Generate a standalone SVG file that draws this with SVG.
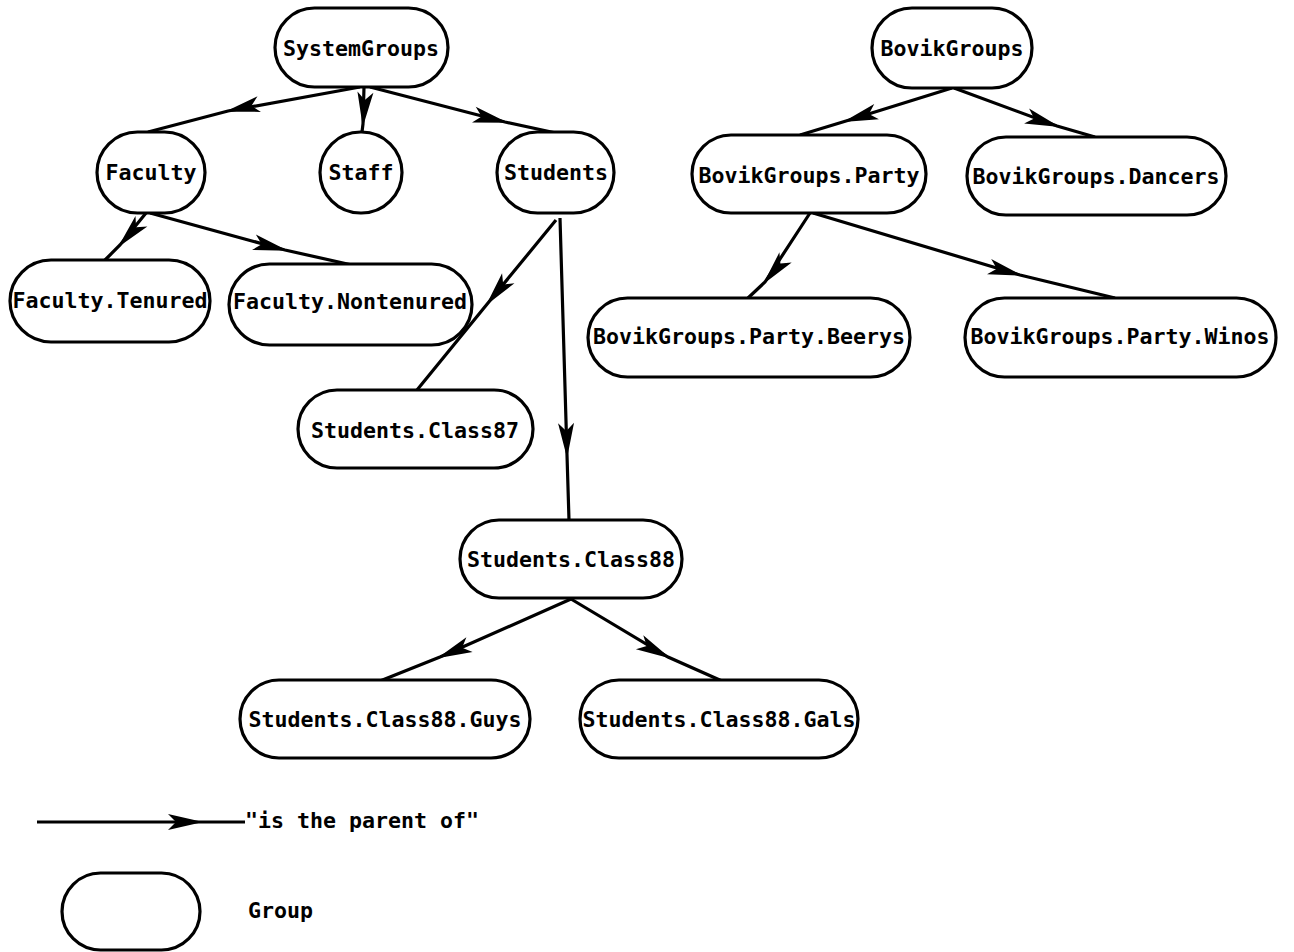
<svg xmlns="http://www.w3.org/2000/svg" width="1294" height="952" viewBox="0 0 1294 952">
<style>
.n{fill:#fff;stroke:#000;stroke-width:3.2}
.t{font-family:"DejaVu Sans Mono","Liberation Mono",monospace;font-weight:bold;font-size:21.6px;fill:#000;text-anchor:middle;dominant-baseline:central}
.c{fill:none;stroke:#000;stroke-width:3.2;marker-mid:url(#ah)}
</style>
<defs>
<marker id="ah" markerUnits="userSpaceOnUse" markerWidth="50" markerHeight="24" viewBox="-40 -12 50 24" refX="0" refY="0" orient="auto" overflow="visible">
<path d="M3,0 L-32,-8 L-24,0 L-32,8 Z" fill="#000"/>
</marker>
</defs>
<rect width="1294" height="952" fill="#fff"/>
<g id="connectors">
<polyline class="c" points="360,87 228,111 148,132"/>
<polyline class="c" points="364,87 363,124 362,132"/>
<polyline class="c" points="370,87 505,122 556,133"/>
<polyline class="c" points="146,213 120,245 104,261"/>
<polyline class="c" points="150,213 285,250 352,265"/>
<polyline class="c" points="556,220 488,303 417,390"/>
<polyline class="c" points="560,218 567,455 569,520"/>
<polyline class="c" points="571,599 440,657 380,681"/>
<polyline class="c" points="571,599 668,657 722,681"/>
<polyline class="c" points="952,88 846,121 800,135"/>
<polyline class="c" points="954,88 1057,126 1095,137"/>
<polyline class="c" points="810,213 765,282 748,298"/>
<polyline class="c" points="813,213 1020,275 1115,298"/>
<polyline class="c" points="37,822 200,822 245,822"/>
</g>
<g id="SystemGroups"><rect class="n" x="275" y="8" width="173" height="79" rx="39.5"/><text class="t" x="361" y="48">SystemGroups</text></g>
<g id="Faculty"><rect class="n" x="97" y="132" width="108" height="81" rx="40.5"/><text class="t" x="151" y="172">Faculty</text></g>
<g id="Staff"><rect class="n" x="320" y="132" width="82" height="81" rx="40.5"/><text class="t" x="361" y="172">Staff</text></g>
<g id="Students"><rect class="n" x="497" y="132" width="117" height="81" rx="40.5"/><text class="t" x="556" y="172">Students</text></g>
<g id="Faculty.Tenured"><rect class="n" x="10" y="260" width="200" height="82" rx="41"/><text class="t" x="110" y="300">Faculty.Tenured</text></g>
<g id="Faculty.Nontenured"><rect class="n" x="229" y="264" width="243" height="81" rx="40.5"/><text class="t" x="350" y="301">Faculty.Nontenured</text></g>
<g id="Students.Class87"><rect class="n" x="298" y="390" width="235" height="78" rx="39"/><text class="t" x="415" y="430">Students.Class87</text></g>
<g id="Students.Class88"><rect class="n" x="460" y="520" width="222" height="78" rx="39"/><text class="t" x="571" y="559">Students.Class88</text></g>
<g id="Students.Class88.Guys"><rect class="n" x="240" y="680" width="290" height="78" rx="39"/><text class="t" x="385" y="719">Students.Class88.Guys</text></g>
<g id="Students.Class88.Gals"><rect class="n" x="580" y="680" width="278" height="78" rx="39"/><text class="t" x="719" y="719">Students.Class88.Gals</text></g>
<g id="BovikGroups"><rect class="n" x="872" y="8" width="160" height="80" rx="40"/><text class="t" x="952" y="48">BovikGroups</text></g>
<g id="BovikGroups.Party"><rect class="n" x="692" y="135" width="234" height="78" rx="39"/><text class="t" x="809" y="175">BovikGroups.Party</text></g>
<g id="BovikGroups.Dancers"><rect class="n" x="967" y="137" width="259" height="78" rx="39"/><text class="t" x="1096" y="176">BovikGroups.Dancers</text></g>
<g id="BovikGroups.Party.Beerys"><rect class="n" x="588" y="298" width="322" height="79" rx="39.5"/><text class="t" x="749" y="336">BovikGroups.Party.Beerys</text></g>
<g id="BovikGroups.Party.Winos"><rect class="n" x="965" y="298" width="311" height="79" rx="39.5"/><text class="t" x="1120" y="336">BovikGroups.Party.Winos</text></g>
<g id="legend">
<text class="t" x="245" y="820" style="text-anchor:start">"is the parent of"</text>
<rect class="n" x="62" y="873" width="138" height="77" rx="38.5"/>
<text class="t" x="248" y="910" style="text-anchor:start">Group</text>
</g>
</svg>
